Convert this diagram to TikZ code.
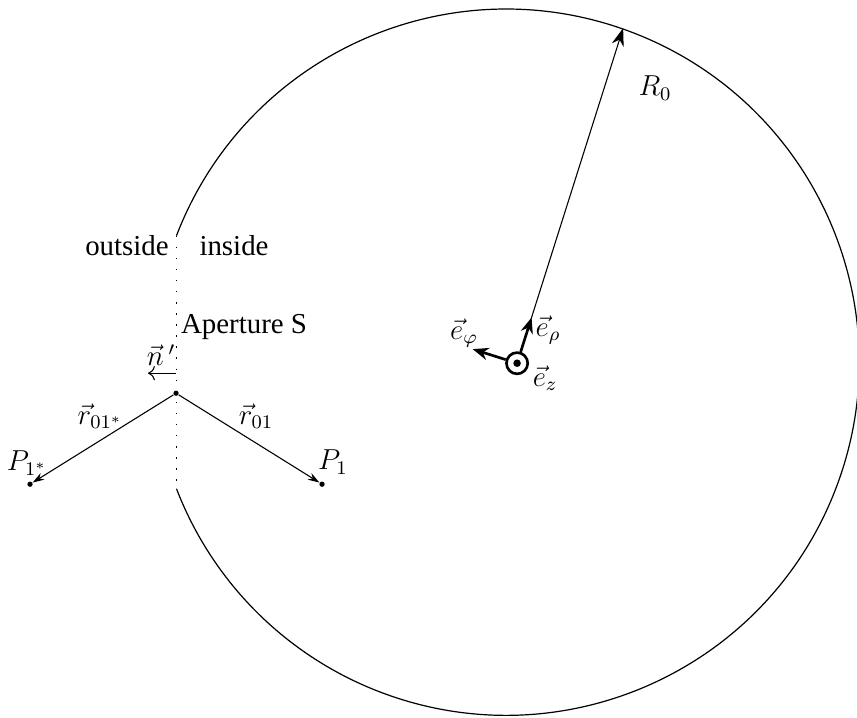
\documentclass[tikz,border=0pt]{standalone}
\usepackage[no-math]{fontspec}
\setmainfont{Liberation Serif}
\usetikzlibrary{arrows.meta,positioning,calc}
\tikzset{
  wall/.style={line width=0.5pt},
  apline/.style={line width=0.6pt, dash pattern=on 0.6pt off 4pt},
  radarrow/.style={-{Stealth[length=2.6mm,width=1.8mm]}, line width=0.45pt},
  rayarrow/.style={-{Stealth[length=1.7mm,width=1.1mm]}, line width=0.45pt},
  basearrow/.style={-{Stealth[length=2.3mm,width=1.8mm]}, line width=1.1pt},
  normarrow/.style={-{To[length=1mm]}, line width=0.45pt},
  raydot/.style={circle, fill, inner sep=0pt, minimum size=2.2pt},
  txtlabel/.style={font=\large},
  mlabel/.style={font=\large},
}

\begin{document}
\begin{tikzpicture}
  \useasboundingbox (0,0) rectangle (12.51,10.47);

  % cavity wall with the aperture cut out
  \coordinate (C) at (7.388,5.183);
  \coordinate (A) at ($(C)+(159:5.154)$);
  \coordinate (B) at ($(C)+(-159:5.154)$);
  \draw[wall] (A) arc[start angle=159, end angle=-159, radius=5.154];
  \draw[apline] (A) -- (B);

  \node[txtlabel] (out) at (1.854,6.891) {outside};
  \node[txtlabel] (in) at (3.416,6.891) {inside};
  \node[txtlabel] (ap) at (3.562,5.694) {Aperture S};

  % unit vectors at the centre
  \node[circle, draw, line width=1.1pt, minimum size=0.31cm, inner sep=0pt] (ez) at (7.548,5.168) {};
  \fill (ez.center) circle (0.055);
  \coordinate (T) at (9.096,10.059);
  \coordinate (erho) at ($(ez.center)+(72.4:0.70)$);
  \coordinate (ephi) at ($(ez.center)+(162.4:0.68)$);
  \draw[radarrow] (ez) -- (T);
  \draw[basearrow] (ez) -- (erho);
  \draw[basearrow] (ez) -- (ephi);

  \node[mlabel] (R) at (9.563,9.183) {$R_0$};
  \node[mlabel] (lrho) at (8.001,5.650) {$\vec{e}_\rho$};
  \node[mlabel] (lphi) at (6.774,5.606) {$\vec{e}_\varphi$};
  \node[mlabel] (lz) at (7.957,4.949) {$\vec{e}_z$};

  % source point and image point
  \node[raydot] (O) at (2.570,4.730) {};
  \node[raydot] (P1) at (4.701,3.402) {};
  \node[raydot] (P1s) at (0.438,3.402) {};
  \draw[rayarrow] (O) -- (P1);
  \draw[rayarrow] (O) -- (P1s);

  \coordinate (n0) at (2.570,5.022);
  \coordinate (n1) at (2.161,5.022);
  \draw[normarrow] (n0) -- (n1);
  \node[mlabel] (ln) at (2.351,5.285) {$\vec{n}\,'$};

  \node[mlabel] (lr) at (3.738,4.395) {$\vec{r}_{01}$};
  \node[mlabel] (lrs) at (1.460,4.395) {$\vec{r}_{01^*}$};
  \node[mlabel] (lP1) at (4.862,3.723) {$P_1$};
  \node[mlabel] (lP1s) at (0.394,3.708) {$P_{1^*}$};
\end{tikzpicture}
\end{document}
